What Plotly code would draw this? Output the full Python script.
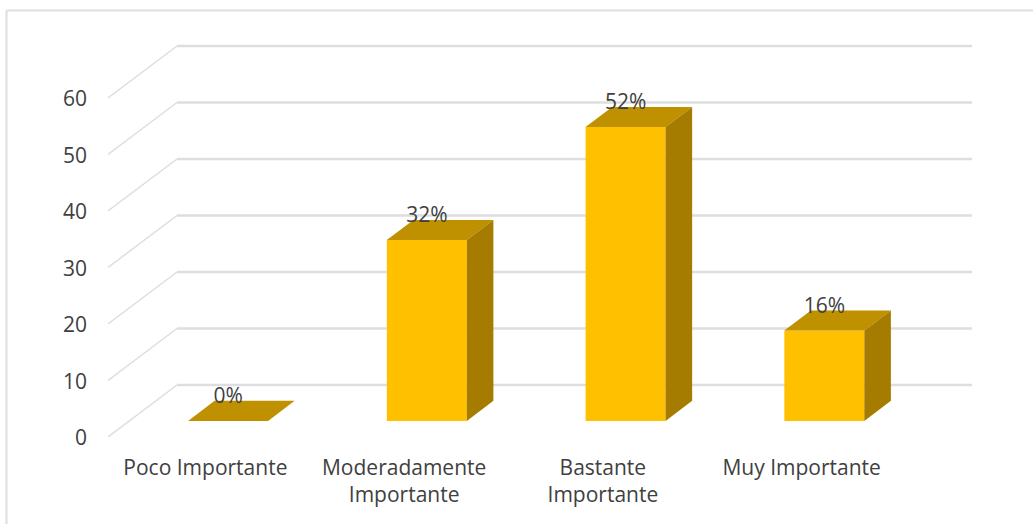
import plotly.graph_objects as go

categories = ["Poco Importante", "Moderadamente<br>Importante", "Bastante<br>Importante", "Muy Importante"]
values = [0, 32, 52, 16]
value_labels = ["0%", "32%", "52%", "16%"]
y_ticks = [0, 10, 20, 30, 40, 50, 60]

W, H = 1033, 524
ML, MR, MT, MB = 108, 61, 30, 87
PX_PER_CAT = 198.75
PX_PER_UNIT = 5.65
X_MIN = -0.5
X_MAX = X_MIN + (W - ML - MR) / PX_PER_CAT
Y_MAX = (H - MT - MB) / PX_PER_UNIT

# oblique projection of the depth axis, in data units
WALL_DX = 69 / PX_PER_CAT
WALL_DY = 52 / PX_PER_UNIT
BAR_START = 0.30          # share of floor depth in front of the bars
BAR_DEPTH = 0.385         # share of floor depth occupied by the bars
BAR_WIDTH = 80 / PX_PER_CAT

FRONT = "#FFC000"
TOP = "#BF9000"
SIDE = "#A67C00"
GRID = "#DEDEDE"
TEXT = "#404040"
FONT = "Open Sans"
FONT_SIZE = 21

shift_x = WALL_DX * BAR_START
base = WALL_DY * 0.31
dx = WALL_DX * BAR_DEPTH
dy = WALL_DY * BAR_DEPTH
centers = [i + shift_x for i in range(len(values))]

fig = go.Figure()
fig.add_trace(go.Bar(
    x=centers, y=values, base=base, width=BAR_WIDTH,
    marker=dict(color=FRONT, line=dict(width=0)), hoverinfo="skip", showlegend=False,
))

for c, v in zip(centers, values):
    l, r = c - BAR_WIDTH / 2, c + BAR_WIDTH / 2
    t = base + v
    fig.add_trace(go.Scatter(
        x=[l, r, r + dx, l + dx, l], y=[t, t, t + dy, t + dy, t],
        mode="lines", fill="toself", fillcolor=TOP, line=dict(width=0),
        hoverinfo="skip", showlegend=False,
    ))
    if v > 0:
        fig.add_trace(go.Scatter(
            x=[r, r + dx, r + dx, r, r], y=[base, base + dy, t + dy, t, base],
            mode="lines", fill="toself", fillcolor=SIDE, line=dict(width=0),
            hoverinfo="skip", showlegend=False,
        ))

fig.add_trace(go.Scatter(
    x=centers, y=[base + v + 23 / PX_PER_UNIT for v in values],
    mode="text", text=value_labels, textposition="middle center",
    textfont=dict(family=FONT, size=FONT_SIZE, color=TEXT),
    hoverinfo="skip", showlegend=False,
))

shapes = []
for tick in y_ticks:
    back = tick + WALL_DY
    shapes.append(dict(type="line", xref="x", yref="y", layer="below",
                       x0=X_MIN, y0=tick, x1=X_MIN + WALL_DX, y1=back,
                       line=dict(color=GRID, width=1.5)))
    shapes.append(dict(type="line", xref="x", yref="y", layer="below",
                       x0=X_MIN + WALL_DX, y0=back, x1=X_MAX, y1=back,
                       line=dict(color=GRID, width=2.5)))

# chart frame, visible on the left and top edges only
frame_left = (6.5 - ML) / (W - ML - MR)
frame_top = (H - MB - 10.5) / (H - MT - MB)
shapes.append(dict(type="line", xref="paper", yref="paper", x0=frame_left, x1=frame_left,
                   y0=(H - MB - H) / (H - MT - MB), y1=frame_top, line=dict(color=GRID, width=2)))
shapes.append(dict(type="line", xref="paper", yref="paper", x0=frame_left, x1=(W - ML) / (W - ML - MR),
                   y0=frame_top, y1=frame_top, line=dict(color=GRID, width=2)))

fig.update_layout(
    width=W, height=H, autosize=False,
    margin=dict(l=ML, r=MR, t=MT, b=MB),
    paper_bgcolor="white", plot_bgcolor="rgba(0,0,0,0)",
    showlegend=False, shapes=shapes,
    font=dict(family=FONT, size=FONT_SIZE, color=TEXT),
    xaxis=dict(range=[X_MIN, X_MAX], tickmode="array", tickvals=list(range(len(categories))),
               ticktext=categories, showgrid=False, zeroline=False, showline=False,
               ticks="", ticklabelstandoff=16, ticklabelshift=-2, tickangle=0,
               tickfont=dict(family=FONT, size=FONT_SIZE, color=TEXT)),
    yaxis=dict(range=[0, Y_MAX], tickmode="array", tickvals=y_ticks, ticktext=[str(t) for t in y_ticks],
               showgrid=False, zeroline=False, showline=False, ticks="",
               ticklabelstandoff=20, ticklabelshift=1,
               tickfont=dict(family=FONT, size=FONT_SIZE, color=TEXT)),
)
fig.write_html("out.html", config={"displayModeBar": False},
               post_script="document.body.style.margin='0';document.body.style.overflow='hidden';")
